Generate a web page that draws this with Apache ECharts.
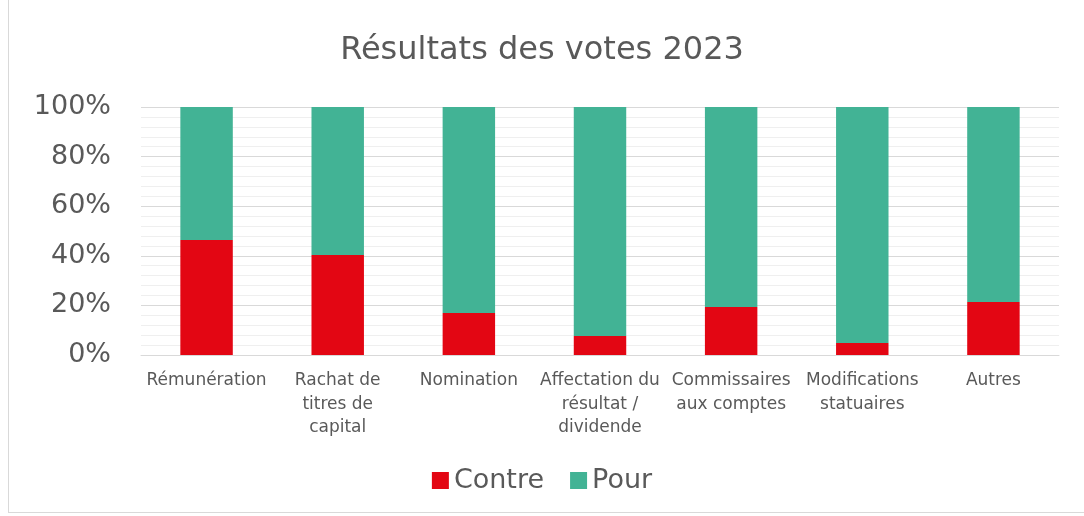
<!DOCTYPE html>
<html>
<head>
<meta charset="utf-8">
<script src="https://cdn.jsdelivr.net/npm/echarts@6/dist/echarts.min.js"></script>
<style>
  html, body { margin: 0; padding: 0; background: #fff; overflow: hidden; }
  #frame { position: absolute; left: 8px; top: 0; width: 1076px; height: 513px; border-left: 1px solid #d9d9d9; border-bottom: 1px solid #d9d9d9; box-sizing: border-box; }
  #chart { position: absolute; left: 0; top: 0; width: 1084px; height: 516px; }
</style>
</head>
<body>
<div id="frame"></div>
<div id="chart"></div>
<script>
// catégories (libellés avec retours à la ligne comme dans Excel)
const categories = [
  'Rémunération',
  'Rachat de\ntitres de\ncapital',
  'Nomination',
  'Affectation du\nrésultat /\ndividende',
  'Commissaires\naux comptes',
  'Modifications\nstatuaires',
  'Autres'
];
const contre = [46.4, 40.3, 16.9, 7.7, 19.4, 4.8, 21.4];
const pour = [53.6, 59.7, 83.1, 92.3, 80.6, 95.2, 78.6];

const chart = echarts.init(document.getElementById('chart'));
const txt = '#595959';
const font = 'DejaVu Sans';

chart.setOption({
  animation: false,
  textStyle: { fontFamily: font },
  title: {
    text: 'Résultats des votes 2023',
    left: 'center',
    top: 30,
    textStyle: { fontFamily: font, fontSize: 32, fontWeight: 'normal', color: txt }
  },
  legend: {
    bottom: 17,
    left: 'center',
    itemWidth: 17,
    itemHeight: 17,
    itemGap: 26,
    icon: 'rect',
    textStyle: { fontFamily: font, fontSize: 27, color: txt },
    data: ['Contre', 'Pour']
  },
  grid: { left: 141, right: 25, top: 107, bottom: 161 },
  xAxis: {
    type: 'category',
    data: categories,
    axisLine: { lineStyle: { color: '#d9d9d9' } },
    axisTick: { show: false },
    axisLabel: { color: txt, fontSize: 17, lineHeight: 23.5, margin: 14, interval: 0, fontFamily: font }
  },
  yAxis: {
    type: 'value',
    min: 0,
    max: 100,
    interval: 20,
    axisLabel: { formatter: '{value}%', color: txt, fontSize: 27, margin: 30, fontFamily: font },
    axisLine: { show: false },
    axisTick: { show: false },
    splitLine: { lineStyle: { color: '#d9d9d9', width: 1 } },
    minorTick: { show: false, splitNumber: 5 },
    minorSplitLine: { show: true, lineStyle: { color: '#efefef', width: 1 } }
  },
  series: [
    {
      name: 'Contre',
      type: 'bar',
      stack: 'v',
      data: contre,
      barWidth: '40%',
      itemStyle: { color: '#e30613' }
    },
    {
      name: 'Pour',
      type: 'bar',
      stack: 'v',
      data: pour,
      barWidth: '40%',
      itemStyle: { color: '#42b395' }
    }
  ]
});
</script>
</body>
</html>
